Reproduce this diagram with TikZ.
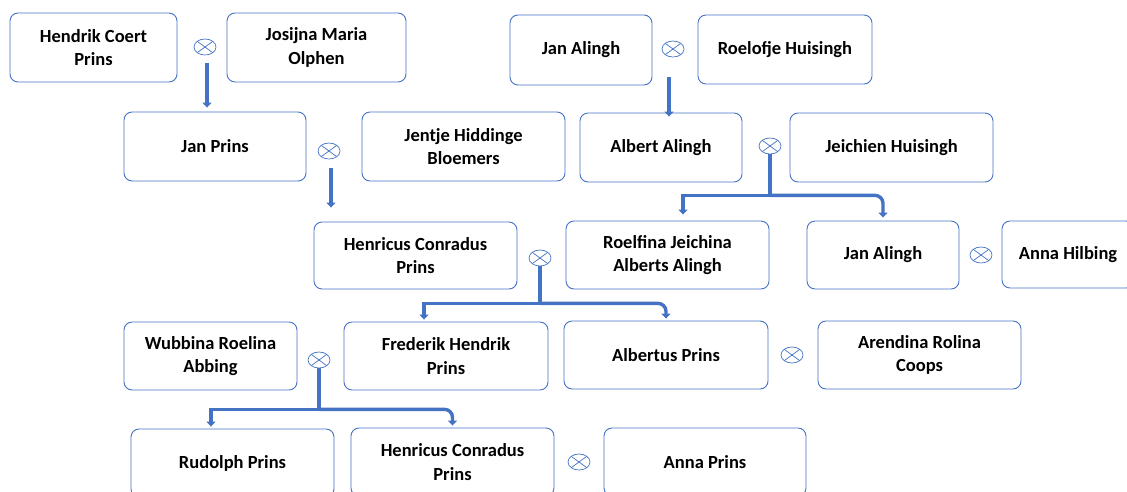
\documentclass[tikz,border=0pt]{standalone}
\usepackage{fontspec}
\setmainfont{Carlito}
\usetikzlibrary{arrows.meta,positioning,shapes.geometric}
\definecolor{famblue}{HTML}{4472C4}
\begin{document}
\begin{tikzpicture}[
  x=1pt,y=-1pt,
  person/.style={draw=famblue, line width=0.9pt, rounded corners=8pt, fill=white, align=center, minimum height=69pt, font=\fontsize{18.5}{23.5}\selectfont\bfseries, inner sep=3pt},
  wed/.style={ellipse, draw=famblue, line width=0.7pt, minimum width=22pt, minimum height=16pt, inner sep=0pt,
    path picture={\draw[famblue, line width=0.7pt] (path picture bounding box.north west) -- (path picture bounding box.south east)
      (path picture bounding box.north east) -- (path picture bounding box.south west);}},
  arr/.style={-{Triangle[length=5pt,width=9pt]}, line width=3.4pt, draw=famblue}
]
\path[use as bounding box, clip] (0,0) rectangle (1127,491);
\node[person, minimum width=167pt] (hendrik) at (93.5,47.5) {Hendrik Coert\\Prins};
\node[person, minimum width=179pt] (josijna) at (316.5,47.5) {Josijna Maria\\Olphen};
\node[person, minimum width=142pt, minimum height=70pt] (janalingh) at (581,50) {Jan Alingh};
\node[person, minimum width=174pt] (roelofje) at (785,49.5) {Roelofje Huisingh};
\node[person, minimum width=182pt] (janprins) at (215,146.5) {Jan Prins};
\node[person, minimum width=203pt] (jentje) at (463.5,146.5) {Jentje Hiddinge\\Bloemers};
\node[person, minimum width=162pt] (albert) at (661,147.5) {Albert Alingh};
\node[person, minimum width=203pt] (jeichien) at (891.5,147.5) {Jeichien Huisingh};
\node[person, minimum width=203pt, minimum height=67pt] (henricus) at (415.5,255.5) {Henricus Conradus\\Prins};
\node[person, minimum width=203pt, minimum height=68pt] (roelfina) at (667.5,255) {Roelfina Jeichina\\Alberts Alingh};
\node[person, minimum width=152pt, minimum height=68pt] (janalingh2) at (883,255) {Jan Alingh};
\node[person, minimum width=132pt, minimum height=67pt] (anna) at (1068,254.5) {Anna Hilbing};
\node[person, minimum width=173pt, minimum height=68pt] (wubbina) at (210.5,356) {Wubbina Roelina\\Abbing};
\node[person, minimum width=204pt, minimum height=68pt] (frederik) at (446,356) {Frederik Hendrik\\Prins};
\node[person, minimum width=204pt, minimum height=68pt] (albertus) at (666,355) {Albertus Prins};
\node[person, minimum width=203pt, minimum height=68pt] (arendina) at (919.5,355) {Arendina Rolina\\Coops};
\node[person, minimum width=203pt, minimum height=68pt] (rudolph) at (232.5,463) {Rudolph Prins};
\node[person, minimum width=203pt, minimum height=68pt] (henricus2) at (452.5,462) {Henricus Conradus\\Prins};
\node[person, minimum width=202pt, minimum height=68pt] (annaprins) at (705,462) {Anna Prins};
\node[wed] (w1) at (205,47) {};
\node[wed] (w2) at (673,49) {};
\node[wed] (w3) at (329,151) {};
\node[wed] (w4) at (770,146) {};
\node[wed] (w5) at (540,258) {};
\node[wed] (w6) at (981,255) {};
\node[wed] (w7) at (319,360) {};
\node[wed] (w8) at (792,355) {};
\node[wed] (w9) at (579,462) {};
\draw[arr, shorten <=8pt] ([xshift=2pt]w1.south) -- ([xshift=2pt,yshift=4pt]w1.south |- janprins.north);
\draw[arr, shorten <=20pt] ([xshift=-4pt]w2.south) -- ([xshift=-4pt,yshift=-4pt]w2.south |- albert.north);
\draw[arr, shorten <=9pt] ([xshift=2pt]w3.south) -- ([xshift=2pt,yshift=14pt]w3.south |- henricus.north);
\draw[arr] (w4.south) -- ++(0,41) coordinate (j4) -| ([xshift=15.5pt,yshift=6pt]roelfina.north);
\draw[arr, rounded corners=8pt] (j4) -| ([yshift=3pt]janalingh2.north);
\draw[arr] (w5.south) -- ++(0,37) coordinate (j5) -| ([xshift=-22pt,yshift=2pt]frederik.north);
\draw[arr, rounded corners=8pt] (j5) -| ([yshift=2pt]albertus.north);
\draw[arr] (w7.south) -- ++(0,41) coordinate (j7) -| ([xshift=-21.5pt,yshift=2pt]rudolph.north);
\draw[arr, rounded corners=8pt] (j7) -| ([yshift=2pt]henricus2.north);
\end{tikzpicture}
\end{document}
